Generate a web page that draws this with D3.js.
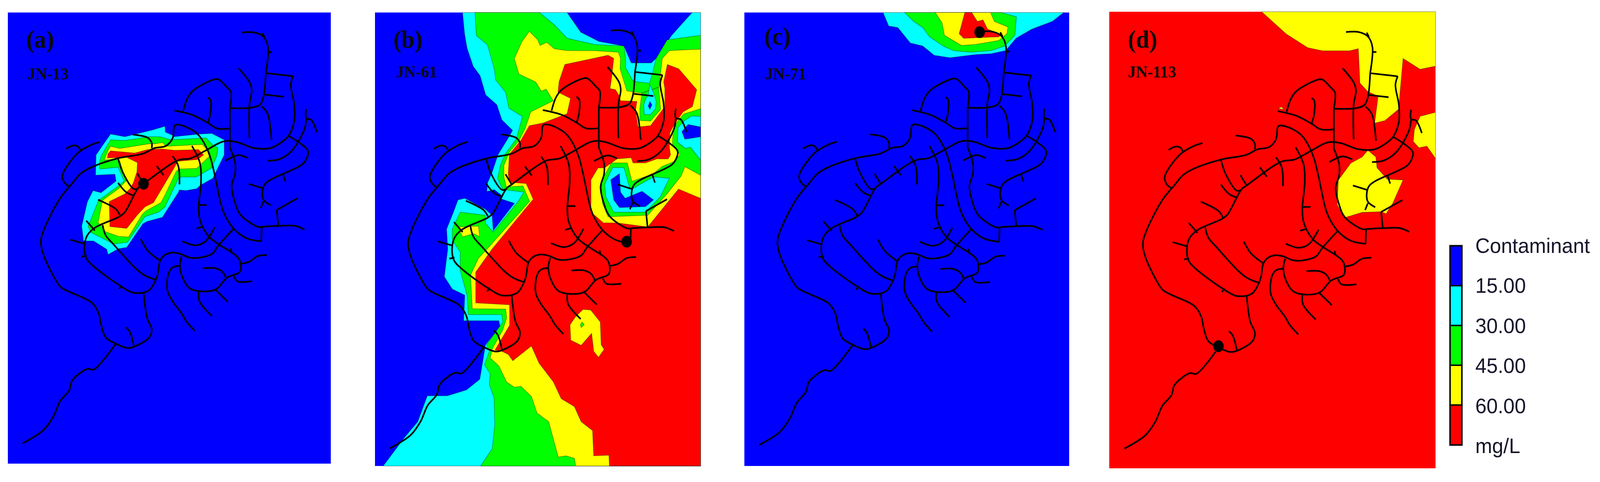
<!DOCTYPE html>
<meta charset="utf-8">
<script src="https://d3js.org/d3.v7.min.js"></script>
<style>
 html, body { margin: 0; background: #fff; overflow: hidden; }
 .lab { font-family: 'Liberation Serif'; font-weight: bold; fill: #0a0a0a; filter: blur(0.7px); }
 .leg { font-family: 'Liberation Sans'; font-size: 54px; fill: #16162a; filter: blur(0.6px); }
</style>
<div id="chart"></div>
<script>
 // legend classes, low to high
 const levels = ["blue", "cyan", "green", "yellow", "red"];
 const levelColors = ["#0000ff", "#00ffff", "#00ff00", "#ffff00", "#ff0000"];
 const legendLabels = ["Contaminant", "15.00", "30.00", "45.00", "60.00", "mg/L"];

 const panelLetters = ["(a)", "(b)", "(c)", "(d)"];
 const panelNodes = ["JN-13", "JN-61", "JN-71", "JN-113"];
 // marker position of each monitored junction, read in the panel's own map units
 const markers = [[632, 598], [1142, 786], [1080, 105], [532, 1125]];

 // pipes, map units
 const pipes = [
   [[100,1442],[190,1400],[235,1355],[265,1305],[305,1270],[318,1238],[385,1200],[413,1202],[510,1118]],
   [[510,1118],[560,1132],[590,1128],[658,1097],[668,1070],[648,1035],[632,952]],
   [[510,1118],[465,1097],[445,1055],[435,1020],[405,985],[270,935],[245,910],[190,825],[180,785],[195,745],[265,645],[320,595],[355,565],[400,545],[520,515],[630,500],[680,482],[730,475],[760,450],[770,408],[800,408],[860,430],[890,455],[925,510],[975,670],[990,700],[1030,745],[1085,775],[1150,785]],
   [[1150,785],[1152,738]],
   [[1152,738],[1225,735],[1300,735],[1340,747]],
   [[632,952],[585,952],[530,930],[410,865],[380,840],[372,800],[385,765],[420,740],[525,705],[550,690],[610,610],[632,598],[750,535],[790,520],[840,515],[905,490],[985,460],[1040,462],[1120,482],[1190,482],[1235,465],[1270,442],[1295,395],[1295,340],[1280,275],[1290,248]],
   [[1290,248],[1170,238]],
   [[1170,238],[1160,315],[1145,340],[1110,350],[1012,352]],
   [[1170,238],[1180,155],[1160,120],[1120,106],[1065,106]],
   [[1155,108],[1165,122]],
   [[1178,170],[1197,170]],
   [[1012,480],[1012,352]],
   [[1012,352],[1017,300],[1000,285],[960,258],[930,262],[850,295],[825,320],[806,362]],
   [[1012,418],[955,418],[915,400],[850,375],[768,360]],
   [[915,318],[926,325],[926,370],[915,400]],
   [[1050,222],[1100,270],[1108,295],[1098,340],[1098,450]],
   [[1150,345],[1178,370],[1195,455]],
   [[1165,308],[1250,315]],
   [[1348,355],[1348,385],[1370,390],[1395,430]],
   [[1348,385],[1340,420],[1285,490],[1230,518],[1178,523]],
   [[1270,442],[1355,490],[1350,515],[1330,535],[1190,585],[1165,600],[1155,625],[1160,650],[1192,668]],
   [[1160,655],[1148,677]],
   [[1095,598],[1155,612]],
   [[1245,565],[1257,592]],
   [[1310,645],[1218,683]],
   [[1218,683],[1225,735]],
   [[1012,480],[1035,530],[1035,565],[1020,605],[1035,660],[1060,700],[1135,738],[1152,738]],
   [[992,523],[1050,505],[1092,515]],
   [[845,475],[880,530],[885,590],[875,670],[880,715],[920,770],[1050,840],[1060,865],[1055,885],[1000,903],[945,943],[840,940],[805,905],[792,865],[800,833]],
   [[875,667],[910,667]],
   [[865,743],[890,738]],
   [[803,785],[860,798],[905,785],[945,740]],
   [[1027,745],[960,800],[935,825],[880,838],[835,838],[790,825],[755,822],[725,830],[705,848],[695,890],[685,912],[660,942],[632,952]],
   [[620,778],[650,815],[705,848]],
   [[685,910],[640,897],[600,875],[500,795],[465,765],[452,732]],
   [[792,865],[760,870],[742,890],[737,945],[760,980],[800,1020],[820,1045],[857,1076]],
   [[875,945],[878,980],[933,1028]],
   [[945,940],[1003,982]],
   [[1060,858],[1095,852],[1135,833],[1175,830]],
   [[1030,898],[1045,915],[1110,915]],
   [[893,873],[950,873],[980,885],[995,905]],
   [[1015,808],[1020,822]],
   [[520,515],[540,560],[590,615],[610,612]],
   [[605,565],[632,598]],
   [[690,540],[720,570]],
   [[760,508],[785,540],[790,600]],
   [[520,595],[555,625],[590,637]],
   [[432,650],[510,680],[530,703]],
   [[380,718],[418,750]],
   [[310,780],[372,793]],
   [[360,835],[382,832]],
   [[525,940],[535,928]],
   [[555,1065],[572,1080],[590,1128]],
   [[292,484],[325,473],[345,478],[355,490]],
   [[440,462],[400,472],[340,500],[275,572],[285,595],[305,607]],
   [[585,438],[650,448],[668,465],[668,482]]
 ];

 // contour zones, [class index, outline], painted in order
 const zonesA = [
   [1, [[487,436],[550,445],[599,436],[671,423],[726,411],[728,430],[759,440],[764,445],[880,436],[932,434],[987,455],[987,504],[937,580],[882,603],[866,614],[819,620],[789,618],[786,625],[715,707],[649,720],[629,728],[558,805],[522,809],[476,828],[470,811],[412,784],[368,784],[360,735],[385,656],[410,620],[445,627],[511,589],[506,567],[421,570],[423,504]]],
   [2, [[487,455],[550,457],[660,445],[704,445],[753,455],[907,449],[934,470],[959,481],[954,508],[932,546],[885,567],[863,576],[789,576],[786,580],[726,673],[698,690],[638,705],[561,788],[500,794],[462,779],[401,756],[388,737],[434,652],[520,606],[547,589],[520,544],[440,550],[437,536],[445,508]]],
   [3, [[487,476],[528,483],[654,468],[682,468],[715,464],[731,476],[890,470],[923,495],[926,506],[880,538],[866,548],[786,550],[775,559],[726,635],[709,659],[643,686],[627,697],[566,771],[522,769],[465,754],[448,737],[432,724],[451,652],[522,614],[555,589],[528,525],[517,517],[459,521],[476,489]]],
   [4, [[487,491],[594,498],[649,487],[715,485],[770,489],[874,487],[896,504],[869,519],[781,525],[770,542],[726,597],[676,659],[638,673],[605,699],[558,743],[484,737],[481,656],[550,631],[575,612],[588,593],[603,559],[605,529],[558,512],[473,514],[476,500]]]
 ];
 const zonesB = [
   [1, [[420,41],[429,110],[440,157],[467,216],[497,246],[522,309],[571,341],[593,390],[640,424],[621,449],[577,502],[566,525],[549,563],[530,595],[527,623],[560,617],[591,635],[585,646],[648,661],[555,750],[550,700],[520,680],[430,645],[400,650],[380,690],[350,745],[355,810],[340,900],[375,940],[430,960],[425,1043],[580,1043],[585,1062],[521,1121],[496,1233],[437,1268],[353,1287],[265,1287],[223,1371],[164,1423],[71,1515],[1467,1515],[1467,41],[1430,41],[1340,115],[1272,190],[1250,205],[1162,205],[1130,150],[1020,135],[940,105],[880,41]]],
   [2, [[475,41],[481,116],[530,146],[560,225],[566,260],[610,301],[624,352],[684,379],[657,451],[607,502],[588,534],[574,580],[597,616],[690,625],[665,655],[555,755],[520,725],[520,700],[410,690],[375,745],[375,780],[410,820],[410,880],[440,960],[446,1023],[593,1023],[597,1047],[526,1121],[538,1142],[517,1186],[542,1216],[538,1250],[559,1294],[562,1380],[551,1458],[500,1515],[1467,1515],[1467,115],[1320,130],[1272,190],[1253,246],[1242,271],[1173,265],[1165,258],[1137,220],[1137,190],[1130,150],[1000,145],[880,125],[824,81],[758,41]]],
   [3, [[714,102],[681,136],[648,191],[668,241],[742,267],[767,297],[788,290],[819,328],[720,364],[695,419],[668,458],[626,495],[602,538],[602,576],[613,608],[686,605],[715,655],[540,800],[490,840],[455,895],[463,1004],[610,1005],[614,1034],[597,1073],[551,1134],[542,1164],[580,1190],[614,1242],[648,1259],[677,1256],[723,1289],[748,1343],[799,1371],[841,1486],[875,1482],[912,1490],[918,1515],[1467,1515],[1467,160],[1330,165],[1299,190],[1283,284],[1209,303],[1143,296],[1113,224],[1115,190],[1105,170],[1000,165],[880,165],[824,159],[791,138],[761,148],[750,129]]],
   [4, [[845,265],[870,210],[1060,180],[1085,190],[1077,246],[1069,288],[1093,292],[1110,313],[1115,328],[1187,330],[1181,360],[1192,413],[1247,409],[1297,360],[1310,347],[1310,288],[1305,267],[1321,210],[1371,224],[1450,292],[1431,347],[1390,364],[1354,402],[1332,432],[1330,479],[1335,504],[1324,517],[1275,517],[1225,530],[1170,530],[1162,513],[1099,517],[1044,546],[1016,546],[985,585],[985,690],[1040,725],[1100,725],[1235,738],[1370,615],[1467,645],[1467,1515],[1066,1515],[1064,1480],[997,1482],[992,1400],[942,1371],[912,1322],[854,1296],[820,1242],[757,1181],[723,1125],[641,1173],[622,1153],[593,1142],[563,1138],[627,1058],[627,991],[478,985],[478,885],[550,810],[731,648],[700,597],[629,593],[621,568],[626,502],[676,457],[714,409],[775,400],[880,370],[895,320],[840,300]]],
   // north lake
   [2, [[1209,303],[1200,352],[1200,392],[1247,394],[1291,356],[1283,284]]],
   [1, [[1244,275],[1261,303],[1272,330],[1269,354],[1247,373],[1220,373],[1217,343],[1225,322],[1236,311]]],
   [0, [[1244,330],[1253,341],[1244,356],[1237,345]]],
   // middle and east lakes
   [2, [[1030,590],[1075,530],[1145,530],[1165,590],[1260,565],[1297,542],[1352,525],[1376,504],[1363,487],[1343,474],[1346,432],[1363,398],[1393,371],[1467,354],[1467,570],[1398,542],[1382,572],[1320,630],[1235,700],[1060,705],[1035,660]]],
   [1, [[1045,600],[1080,545],[1130,545],[1155,610],[1165,615],[1260,575],[1330,580],[1290,640],[1225,690],[1085,690],[1050,640]]],
   [0, [[1072,585],[1110,565],[1115,625],[1135,645],[1210,622],[1260,650],[1225,672],[1110,675],[1085,650]]],
   [1, [[1467,379],[1428,377],[1393,394],[1368,415],[1365,462],[1401,483],[1423,479],[1467,521]]],
   [0, [[1467,413],[1412,405],[1385,428],[1398,453],[1467,445]]],
   // small patches
   [3, [[400,738],[490,735],[495,770],[470,760],[420,770]]],
   [3, [[950,1006],[984,1008],[1026,1047],[1030,1121],[1043,1136],[1018,1162],[997,1142],[988,1084],[942,1123],[896,1106],[893,1056],[917,1030]]],
   [2, [[946,1047],[955,1056],[942,1065],[938,1056]]]
 ];
 const zonesC = [
   [1, [[655,41],[680,85],[720,90],[775,140],[830,150],[880,180],[950,188],[1060,178],[1130,175],[1195,165],[1240,125],[1310,95],[1400,70],[1450,41]]],
   [2, [[750,41],[790,70],[830,90],[860,120],[920,150],[965,165],[1040,170],[1130,165],[1190,150],[1235,115],[1242,55],[1175,41]]],
   [3, [[885,41],[915,75],[925,115],[1000,148],[1060,145],[1165,132],[1200,110],[1205,88],[1145,70],[1128,41]]],
   [4, [[1015,41],[990,110],[1010,125],[1165,120],[1175,112],[1115,95],[1095,65],[1070,70],[1045,41]]]
 ];
 const zonesD = [
   [3, [[722,38],[830,110],[925,155],[990,165],[1110,165],[1148,158],[1155,270],[1190,298],[1235,312],[1220,400],[1265,392],[1325,355],[1345,190],[1420,225],[1488,215],[1488,38]]],
   [3, [[1488,365],[1420,378],[1395,420],[1390,460],[1415,480],[1450,475],[1488,515]]],
   [3, [[1190,488],[1225,510],[1230,545],[1275,582],[1345,585],[1300,660],[1270,695],[1250,688],[1165,690],[1085,708],[1055,665],[1060,585],[1115,530],[1165,510]]],
   [3, [[795,352],[810,347],[820,356]]]
 ];
 const zones = [zonesA, zonesB, zonesC, zonesD];
 const backgrounds = [0, 0, 0, 4];

 // panel frames: map units to pixels, and pipe units to map units
 const panels = [
   {domX: [35, 1456], domY: [41, 1508], boxX: [21, 883], boxY: [32, 1186],
    netX: [100, 1340, 100, 1340], netY: [106, 1442, 106, 1442], labX: 70, labY: 122, subX: 73, subY: 203},
   {domX: [35, 1467], domY: [41, 1515], boxX: [1001, 1870], boxY: [32, 1192],
    netX: [100, 1340, 100, 1350], netY: [106, 1442, 100, 1458], labX: 1050, labY: 122, subX: 1057, subY: 198},
   {domX: [45, 1474], domY: [41, 1515], boxX: [1987, 2854], boxY: [32, 1192],
    netX: [100, 1340, 110, 1357], netY: [238, 1442, 236, 1447], labX: 2040, labY: 114, subX: 2042, subY: 203},
   {domX: [51, 1488], domY: [38, 1522], boxX: [2961, 3832], boxY: [30, 1198],
    netX: [100, 1340, 118, 1372], netY: [106, 1442, 104, 1458], labX: 3011, labY: 122, subX: 3011, subY: 198}
 ];

 // drawn in reference pixels, the viewBox fits that to whatever the window is
 const svg = d3.select("#chart").append("svg")
               .attr("viewBox", "0 0 4271 1233")
               .attr("preserveAspectRatio", "none")
               .style("width", "100vw")
               .style("height", "100vh")
               .style("display", "block");

 panels.forEach((p, i) => {
     const x = d3.scaleLinear().domain(p.domX).range(p.boxX);
     const y = d3.scaleLinear().domain(p.domY).range(p.boxY);
     const nx = d3.scaleLinear().domain(p.netX.slice(0, 2)).range(p.netX.slice(2));
     const ny = d3.scaleLinear().domain(p.netY.slice(0, 2)).range(p.netY.slice(2));
     const g = svg.append("g");

     g.append("rect")
      .attr("x", p.boxX[0]).attr("y", p.boxY[0])
      .attr("width", p.boxX[1] - p.boxX[0]).attr("height", p.boxY[1] - p.boxY[0])
      .attr("fill", levelColors[backgrounds[i]]);

     const area = d3.line().x(d => x(d[0])).y(d => y(d[1])).curve(d3.curveLinearClosed);
     g.selectAll("path.zone").data(zones[i]).join("path")
      .attr("class", "zone")
      .attr("d", d => area(d[1]))
      .attr("fill", d => levelColors[d[0]])
      .attr("stroke", "rgba(0,0,0,0.4)")
      .attr("stroke-width", 1.5);

     const pipe = d3.line().x(d => x(nx(d[0]))).y(d => y(ny(d[1]))).curve(d3.curveCatmullRom.alpha(0.5));
     g.selectAll("path.pipe").data(pipes).join("path")
      .attr("class", "pipe")
      .attr("d", pipe)
      .attr("fill", "none")
      .attr("stroke", "#000")
      .attr("stroke-width", 4.2)
      .attr("stroke-linejoin", "round");

     g.append("ellipse")
      .attr("cx", x(markers[i][0])).attr("cy", y(markers[i][1]))
      .attr("rx", 14).attr("ry", 15)
      .attr("fill", "#000");

     g.append("text").attr("class", "lab").attr("x", p.labX).attr("y", p.labY)
      .style("font-size", "64px").text(panelLetters[i]);
     g.append("text").attr("class", "lab").attr("x", p.subX).attr("y", p.subY)
      .style("font-size", "43px").text(panelNodes[i]);
 });

 // legend
 const legY = d3.scaleBand().domain(levels).range([629, 1138]);
 const legend = svg.append("g");
 legend.append("rect")
       .attr("x", 3868).attr("y", 626).attr("width", 37).attr("height", 515)
       .attr("fill", "#8a8a8a");
 legend.selectAll("rect.cell").data(levels).join("rect")
       .attr("class", "cell")
       .attr("x", 3871).attr("width", 31)
       .attr("y", d => legY(d)).attr("height", legY.bandwidth())
       .attr("fill", (d, i) => levelColors[i])
       .attr("stroke", "#000")
       .attr("stroke-width", 3.5);

 const legText = d3.scalePoint().domain(legendLabels).range([647, 1159]);
 legend.selectAll("text").data(legendLabels).join("text")
       .attr("class", "leg")
       .attr("x", 3938)
       .attr("y", d => legText(d))
       .text(d => d);
</script>
